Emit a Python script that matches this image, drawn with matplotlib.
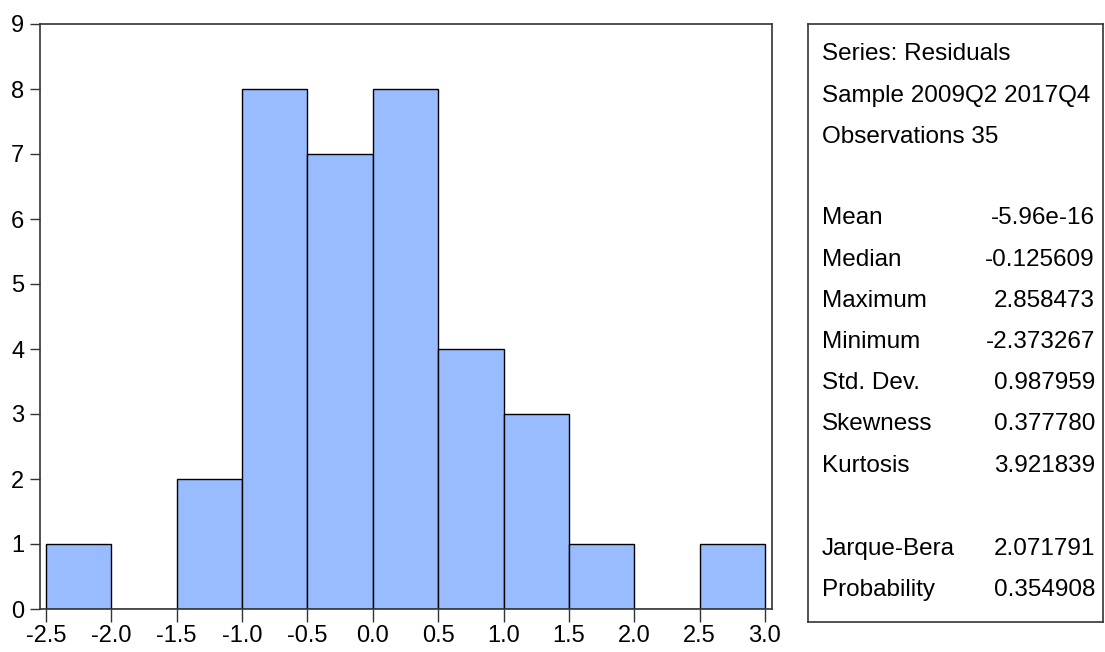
import numpy as np
import matplotlib.pyplot as plt

plt.rcParams['font.family'] = ['Liberation Sans', 'DejaVu Sans']

# histograma de residuos
bin_edges = [-2.5, -2.0, -1.5, -1.0, -0.5, 0.0, 0.5, 1.0, 1.5, 2.0, 2.5, 3.0]
counts = [1, 0, 2, 8, 7, 8, 4, 3, 1, 0, 1]
xtick_labels = ['-2.5', '-2.0', '-1.5', '-1.0', '-0.5', '0.0', '0.5', '1.0', '1.5', '2.0', '2.5', '3.0']

header_lines = ['Series: Residuals', 'Sample 2009Q2 2017Q4', 'Observations 35']
stat_names = ['Mean', 'Median', 'Maximum', 'Minimum', 'Std. Dev.', 'Skewness', 'Kurtosis']
stat_values = ['-5.96e-16', '-0.125609', '2.858473', '-2.373267', '0.987959', '0.377780', '3.921839']
test_names = ['Jarque-Bera', 'Probability']
test_values = ['2.071791', '0.354908']

W, H = 1105, 652
fig = plt.figure(figsize=(W / 100, H / 100), dpi=100)

ax = fig.add_axes([40 / W, (H - 609) / H, (772 - 40) / W, (609 - 24) / H])
left = np.array(bin_edges[:-1])
widths = np.diff(bin_edges)
ax.bar(left, counts, width=widths, align='edge', color='#99BBFF',
       edgecolor='black', linewidth=1.0)
ax.set_xlim(-2.546, 3.054)
ax.set_ylim(0, 9)
ax.set_xticks(bin_edges)
ax.set_xticklabels(xtick_labels)
ax.set_yticks(range(10))
ax.tick_params(axis='x', length=9.4, pad=2)
ax.tick_params(axis='y', length=7.2, pad=4)
ax.tick_params(direction='out', width=1, labelsize=17, color='#333333')
for s in ax.spines.values():
    s.set_color('#333333')
    s.set_linewidth(1.2)

# cuadro de estadísticos
box = fig.add_axes([808 / W, (H - 622) / H, (1103 - 808) / W, (622 - 24) / H])
box.set_xticks([])
box.set_yticks([])
for s in box.spines.values():
    s.set_color('#333333')
    s.set_linewidth(1.2)

fs = 17.5
x_lab = 822 / W
x_val = 1095 / W
rows_y = [54, 96, 137]
for y, t in zip(rows_y, header_lines):
    fig.text(x_lab, 1 - y / H, t, fontsize=fs, va='center', ha='left')
stat_y = [218, 260, 301, 342, 383, 424, 466]
for y, n, v in zip(stat_y, stat_names, stat_values):
    fig.text(x_lab, 1 - y / H, n, fontsize=fs, va='center', ha='left')
    fig.text(x_val, 1 - y / H, v, fontsize=fs, va='center', ha='right')
test_y = [549, 590]
for y, n, v in zip(test_y, test_names, test_values):
    fig.text(x_lab, 1 - y / H, n, fontsize=fs, va='center', ha='left')
    fig.text(x_val, 1 - y / H, v, fontsize=fs, va='center', ha='right')

fig.savefig('out.png', dpi=100)
